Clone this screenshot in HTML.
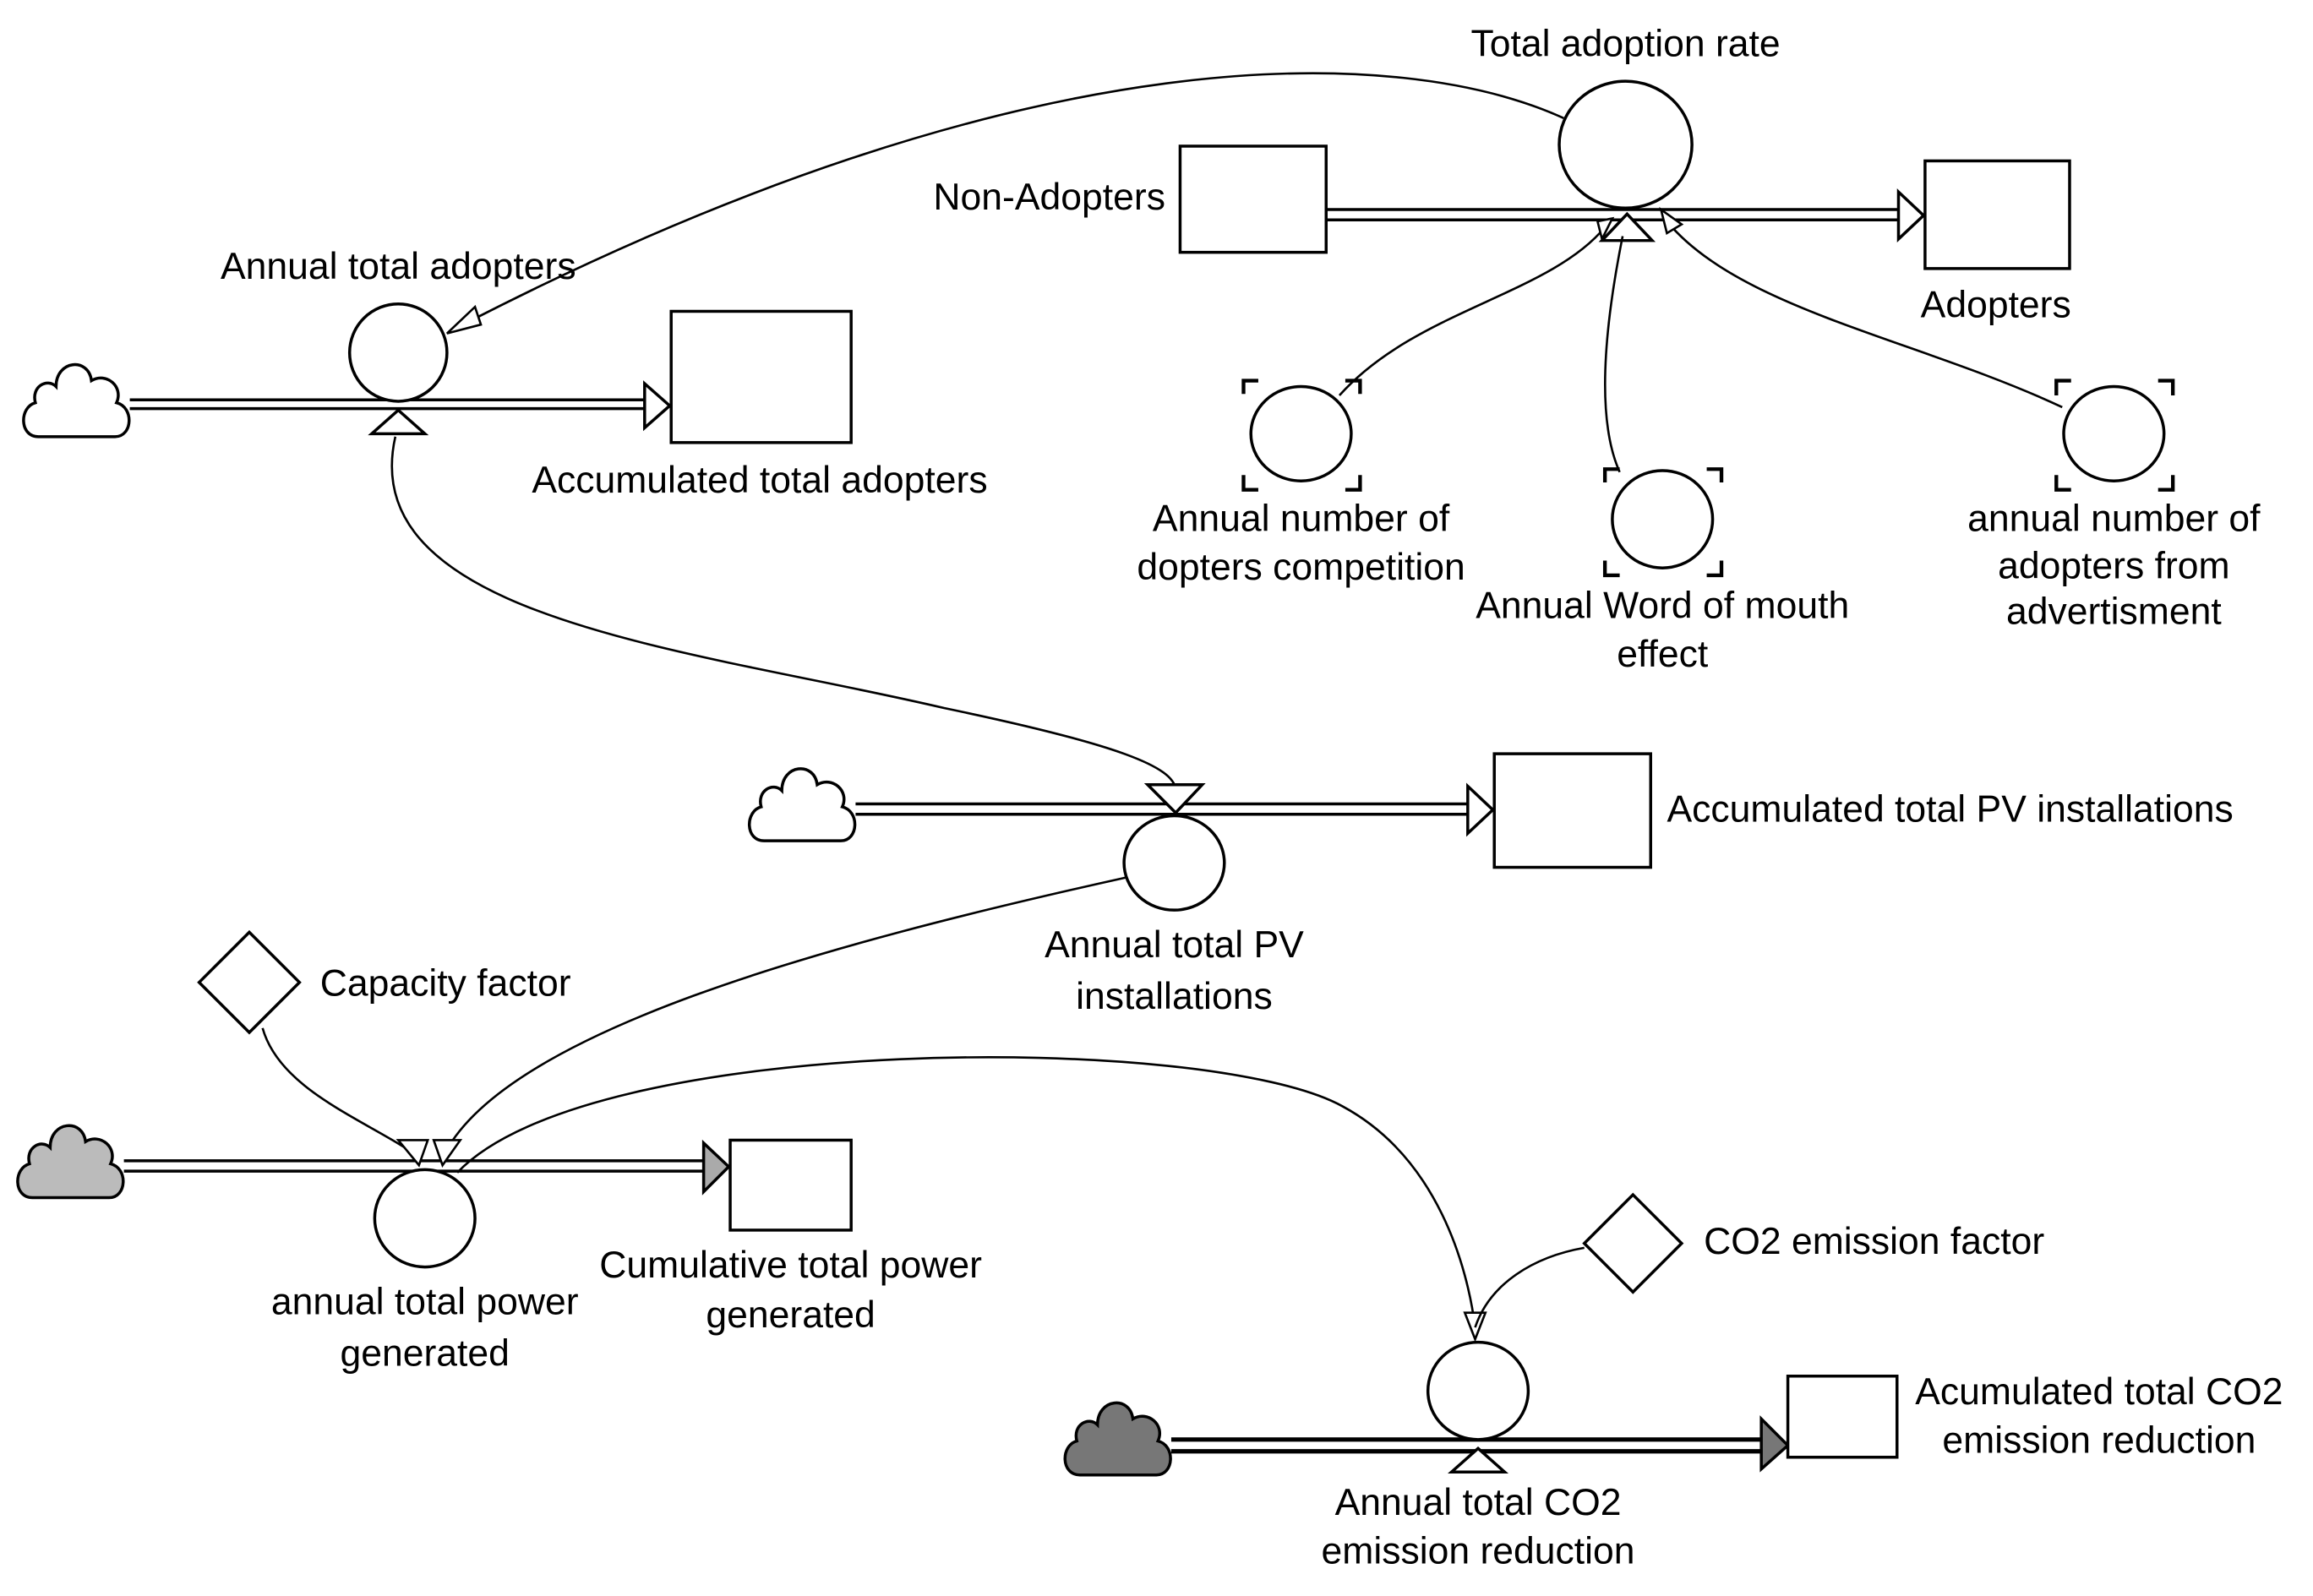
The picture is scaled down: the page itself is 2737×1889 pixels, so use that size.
<!DOCTYPE html>
<html><head><meta charset="utf-8"><style>
html,body{margin:0;padding:0;background:#fff;}
svg{display:block;}
text{font-family:"Liberation Sans",Arial,sans-serif;font-size:25.5px;fill:#000;}
</style></head><body>
<svg width="2737" height="1889" viewBox="0 0 1568 1082" xmlns="http://www.w3.org/2000/svg">
<defs>
<path id="cloud" d="M10,56 C-3,56 -3,36 8,33 C5,22 16,16 22,22 C22,4 44,2 46,18 C56,12 68,22 63,33 C75,36 74,56 62,56 Z"/>
</defs>
<g fill="none" stroke="#000" stroke-width="2">
<use href="#cloud" x="16" y="240" fill="#fff"/>
<line x1="88" y1="271" x2="440" y2="271"/><line x1="88" y1="277" x2="440" y2="277"/>
<polygon points="437,260 454,275 437,290" fill="#fff"/>
<rect x="455" y="211" width="122" height="89" fill="#fff"/>
<ellipse cx="270" cy="239" rx="33" ry="33" fill="#fff"/>
<polygon points="252,294 288,294 270,278" fill="#fff"/>

<rect x="800" y="99" width="99" height="72" fill="#fff"/>
<line x1="899" y1="142" x2="1288" y2="142"/><line x1="899" y1="149" x2="1288" y2="149"/>
<polygon points="1287,130 1304,146 1287,162" fill="#fff"/>
<rect x="1305" y="109" width="98" height="73" fill="#fff"/>
<ellipse cx="1102" cy="98" rx="45" ry="43" fill="#fff"/>
<polygon points="1086,163 1120,163 1103,145" fill="#fff"/>

<ellipse cx="882" cy="294" rx="34" ry="32" fill="#fff"/>
<ellipse cx="1127" cy="352" rx="34" ry="33" fill="#fff"/>
<ellipse cx="1433" cy="294" rx="34" ry="32" fill="#fff"/>
<g stroke-width="2.5">
<path d="M843,267 V258 H853 M912,258 H922 V267 M843,322 V332 H853 M912,332 H922 V322"/>
<path d="M1088,327 V318 H1098 M1157,318 H1167 V327 M1088,380 V390 H1098 M1157,390 H1167 V380"/>
<path d="M1394,268 V258 H1404 M1463,258 H1473 V268 M1394,322 V332 H1404 M1463,332 H1473 V322"/>
</g>
<path d="M908,268 C960,210 1050,200 1088,154" stroke-width="1.5"/>
<polygon points="1083,150 1093,148 1086,162" fill="#fff" stroke-width="1.5"/>
<path d="M1098,320 C1080,280 1090,210 1100,160" stroke-width="1.5"/>
<path d="M1398,276 C1300,230 1180,210 1130,150" stroke-width="1.5"/>
<polygon points="1126,142 1140,152 1130,158" fill="#fff" stroke-width="1.5"/>
<path d="M1060,80 C950,30 700,20 310,222" stroke-width="1.5"/>
<polygon points="303,226 322,208 326,220" fill="#fff" stroke-width="1.5"/>
<path d="M268,296 C240,420 470,440 640,480 C760,505 795,520 797,535" stroke-width="1.5"/>

<use href="#cloud" x="508" y="514" fill="#fff"/>
<line x1="580" y1="545" x2="1000" y2="545"/><line x1="580" y1="552" x2="1000" y2="552"/>
<polygon points="995,533 1012,549 995,565" fill="#fff"/>
<rect x="1013" y="511" width="106" height="77" fill="#fff"/>
<ellipse cx="796" cy="585" rx="34" ry="32" fill="#fff"/>
<polygon points="778,532 815,532 797,551" fill="#fff"/>
<path d="M763,595 C560,640 340,700 300,785" stroke-width="1.5"/>

<polygon points="169,632 203,666 169,700 135,666" fill="#fff"/>
<path d="M178,697 C190,740 250,760 285,785" stroke-width="1.5"/>

<use href="#cloud" x="12" y="756" fill="#bbb"/>
<line x1="84" y1="787" x2="478" y2="787"/><line x1="84" y1="794" x2="478" y2="794"/>
<polygon points="477,775 494,791 477,808" fill="#aaa"/>
<rect x="495" y="773" width="82" height="61" fill="#fff"/>
<ellipse cx="288" cy="826" rx="34" ry="33" fill="#fff"/>
<polygon points="270,773 290,773 284,790" fill="#fff" stroke-width="1.5"/>
<polygon points="294,773 312,773 300,790" fill="#fff" stroke-width="1.5"/>
<path d="M310,795 C400,700 820,700 910,750 C975,785 995,860 1000,900" stroke-width="1.5"/>
<polygon points="993,890 1007,890 1000,908" fill="#fff" stroke-width="1.5"/>

<polygon points="1107,810 1140,843 1107,876 1074,843" fill="#fff"/>
<path d="M1074,846 C1040,852 1010,870 1000,900" stroke-width="1.5"/>
<use href="#cloud" x="722" y="944" fill="#777"/>
<line x1="794" y1="976" x2="1196" y2="976" stroke-width="3"/><line x1="794" y1="984" x2="1196" y2="984" stroke-width="3"/>
<polygon points="1194,962 1212,980 1194,996" fill="#777"/>
<rect x="1212" y="933" width="74" height="55" fill="#fff"/>
<ellipse cx="1002" cy="943" rx="34" ry="33" fill="#fff"/>
<polygon points="984,998 1020,998 1002,982" fill="#fff"/>
</g>

<text x="1102" y="38" text-anchor="middle">Total adoption rate</text>
<text x="790" y="142" text-anchor="end">Non-Adopters</text>
<text x="1353" y="215" text-anchor="middle">Adopters</text>
<text x="270" y="189" text-anchor="middle">Annual total adopters</text>
<text x="515" y="334" text-anchor="middle">Accumulated total adopters</text>
<text x="882" y="360" text-anchor="middle">Annual number of</text>
<text x="882" y="393" text-anchor="middle">dopters competition</text>
<text x="1127" y="419" text-anchor="middle">Annual Word of mouth</text>
<text x="1127" y="452" text-anchor="middle">effect</text>
<text x="1433" y="360" text-anchor="middle">annual number of</text>
<text x="1433" y="392" text-anchor="middle">adopters from</text>
<text x="1433" y="423" text-anchor="middle">advertisment</text>
<text x="1130" y="557">Accumulated total PV installations</text>
<text x="796" y="649" text-anchor="middle">Annual total PV</text>
<text x="796" y="684" text-anchor="middle">installations</text>
<text x="217" y="675">Capacity factor</text>
<text x="288" y="891" text-anchor="middle">annual total power</text>
<text x="288" y="926" text-anchor="middle">generated</text>
<text x="536" y="866" text-anchor="middle">Cumulative total power</text>
<text x="536" y="900" text-anchor="middle">generated</text>
<text x="1155" y="850">CO2 emission factor</text>
<text x="1423" y="952" text-anchor="middle">Acumulated total CO2</text>
<text x="1423" y="985" text-anchor="middle">emission reduction</text>
<text x="1002" y="1027" text-anchor="middle">Annual total CO2</text>
<text x="1002" y="1060" text-anchor="middle">emission reduction</text>
</svg>
</body></html>
